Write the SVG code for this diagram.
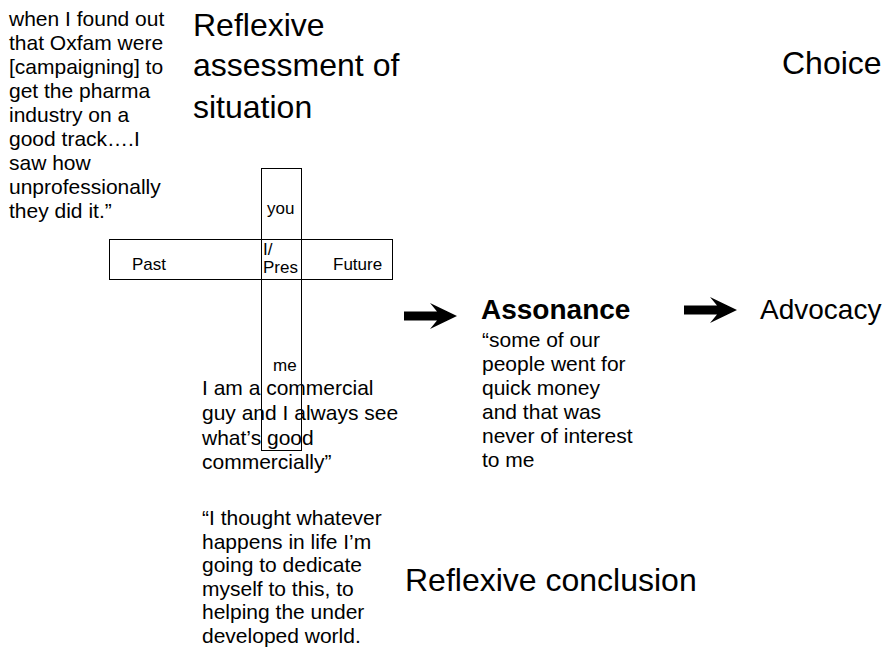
<svg xmlns="http://www.w3.org/2000/svg" width="886" height="650" viewBox="0 0 886 650">
  <style>
    text { font-family: "Liberation Sans", Arial, sans-serif; fill: #000; }
    .quote { font-size: 21px; }
    .head { font-size: 32px; }
    .mid { font-size: 28px; }
    .lbl { font-size: 17px; }
    .bold { font-weight: bold; }
    .box { fill: none; stroke: #000; stroke-width: 1; }
    .arrow { fill: #000; stroke: none; }
  </style>
  <defs>
    <!-- block arrow pointing right, tip at origin -->
    <path id="blockArrow" d="M0,0 L-27,-13 L-20,-4.5 L-53,-4.5 L-53,4.5 L-20,4.5 L-27,13 Z"/>
  </defs>
  <rect width="886" height="650" fill="#fff"/>

  <g id="quote-oxfam">
    <text class="quote" x="9" y="26">when I found out</text>
    <text class="quote" x="9" y="50">that Oxfam were</text>
    <text class="quote" x="9" y="74">[campaigning] to</text>
    <text class="quote" x="9" y="98">get the pharma</text>
    <text class="quote" x="9" y="122">industry on a</text>
    <text class="quote" x="9" y="146">good track….I</text>
    <text class="quote" x="9" y="170">saw how</text>
    <text class="quote" x="9" y="194">unprofessionally</text>
    <text class="quote" x="9" y="218">they did it.”</text>
  </g>

  <g id="reflexive-assessment">
    <text class="head" x="193" y="36">Reflexive</text>
    <text class="head" x="193" y="76">assessment of</text>
    <text class="head" x="193" y="118">situation</text>
  </g>

  <g id="choice">
    <text class="head" x="782" y="74">Choice</text>
  </g>

  <g id="cross">
    <rect class="box" x="261.5" y="168.5" width="40" height="282"/>
    <rect class="box" x="109.5" y="239.5" width="283" height="40"/>
    <text class="lbl" x="267" y="214">you</text>
    <text class="lbl" x="132" y="270">Past</text>
    <text class="lbl" x="263" y="254.5">I/</text>
    <text class="lbl" x="263" y="273">Pres</text>
    <text class="lbl" x="333" y="270">Future</text>
    <text class="lbl" x="273" y="371">me</text>
  </g>

  <g id="quote-commercial">
    <text class="quote" x="202" y="395">I am a commercial</text>
    <text class="quote" x="202" y="420">guy and I always see</text>
    <text class="quote" x="202" y="445">what’s good</text>
    <text class="quote" x="202" y="469">commercially”</text>
  </g>

  <g id="quote-dedicate">
    <text class="quote" x="202" y="525">“I thought whatever</text>
    <text class="quote" x="202" y="548.5">happens in life I’m</text>
    <text class="quote" x="202" y="572">going to dedicate</text>
    <text class="quote" x="202" y="595.5">myself to this, to</text>
    <text class="quote" x="202" y="619">helping the under</text>
    <text class="quote" x="202" y="642.5">developed world.</text>
  </g>

  <g id="assonance">
    <text class="mid bold" x="481" y="319">Assonance</text>
    <text class="quote" x="482" y="347">“some of our</text>
    <text class="quote" x="482" y="371">people went for</text>
    <text class="quote" x="482" y="395">quick money</text>
    <text class="quote" x="482" y="419">and that was</text>
    <text class="quote" x="482" y="443">never of interest</text>
    <text class="quote" x="482" y="467">to me</text>
  </g>

  <g id="advocacy">
    <text class="mid" x="760" y="319">Advocacy</text>
  </g>

  <g id="reflexive-conclusion">
    <text class="head" x="405" y="591">Reflexive conclusion</text>
  </g>

  <g id="connectors">
    <use href="#blockArrow" class="arrow" x="457" y="316"/>
    <use href="#blockArrow" class="arrow" x="737" y="310"/>
  </g>
</svg>
